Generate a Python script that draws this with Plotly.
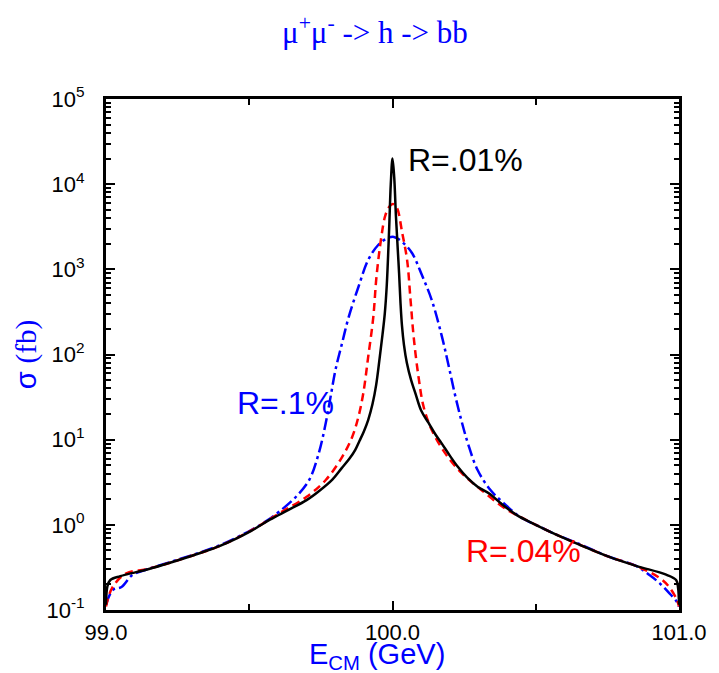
import plotly.graph_objects as go

# ---- data ----
e_black = [99.000, 99.005, 99.015, 99.050, 99.137, 99.200, 99.308, 99.400, 99.507, 99.572,
           99.637, 99.700, 99.744, 99.790, 99.822, 99.850, 99.870, 99.885, 99.900, 99.915,
           99.930, 99.943, 99.955, 99.965, 99.973, 99.980, 99.988, 99.994, 100.000, 100.006,
           100.012, 100.018, 100.023, 100.028, 100.033, 100.040, 100.050, 100.065, 100.080, 100.100,
           100.126, 100.150, 100.171, 100.200, 100.228, 100.260, 100.297, 100.340, 100.377, 100.434,
           100.500, 100.560, 100.650, 100.757, 100.850, 100.955, 100.990, 100.997, 101.000]
s_black = [0.115, 0.19, 0.225, 0.25, 0.295, 0.34, 0.443, 0.57, 0.85, 1.15,
           1.5, 1.95, 2.5, 3.4, 4.6, 6.0, 7.6, 9.7, 12.5, 17,
           26, 44, 90, 170, 300, 650, 2800, 10000, 20000, 12000,
           4200, 1800, 900, 400, 220, 130, 80, 50, 35, 22,
           15.7, 11.5, 9.1, 6.5, 4.8, 3.6, 2.8, 2.3, 1.8, 1.3,
           1.0, 0.80, 0.59, 0.42, 0.33, 0.26, 0.225, 0.18, 0.115]

e_red = [99.000, 99.023, 99.071, 99.137, 99.200, 99.308, 99.400, 99.507, 99.607, 99.699,
         99.767, 99.824, 99.859, 99.881, 99.898, 99.915, 99.933, 99.944, 99.961, 99.975,
         99.990, 100.001, 100.015, 100.034, 100.051, 100.063, 100.074, 100.091, 100.109, 100.137,
         100.183, 100.240, 100.308, 100.388, 100.434, 100.500, 100.560, 100.650, 100.757, 100.850,
         100.932, 100.966, 100.993, 101.000]
s_red = [0.11, 0.186, 0.27, 0.30, 0.34, 0.443, 0.57, 0.86, 1.38, 2.12,
         3.36, 6.25, 10.7, 18.5, 35, 93, 275, 812, 2395, 4300,
         5500, 5850, 5300, 2670, 1285, 436, 160, 54, 24, 13,
         7.0, 4.1, 2.6, 1.6, 1.3, 1.0, 0.80, 0.59, 0.42, 0.33,
         0.238, 0.186, 0.131, 0.11]

e_blue = [99.000, 99.024, 99.054, 99.092, 99.137, 99.200, 99.308, 99.400, 99.507, 99.562,
          99.607, 99.664, 99.710, 99.744, 99.767, 99.784, 99.801, 99.824, 99.847, 99.881,
          99.915, 99.950, 99.980, 100.005, 100.034, 100.068, 100.103, 100.137, 100.171, 100.194,
          100.217, 100.240, 100.263, 100.297, 100.342, 100.388, 100.445, 100.500, 100.560, 100.650,
          100.757, 100.850, 100.897, 100.932, 100.966, 100.993, 101.000]
s_blue = [0.115, 0.172, 0.186, 0.258, 0.295, 0.345, 0.45, 0.58, 0.87, 1.12,
          1.45, 2.15, 3.4, 7.2, 15.7, 32, 66, 136, 275, 620,
          1285, 1930, 2300, 2400, 2094, 1555, 850, 436, 170, 79,
          35, 17, 9.1, 4.4, 2.56, 1.8, 1.24, 1.0, 0.80, 0.60,
          0.42, 0.33, 0.257, 0.207, 0.158, 0.124, 0.11]

x_tickvals = [99.0, 100.0, 101.0]
x_ticktext = ["99.0", "100.0", "101.0"]
x_minor = [99.5, 100.5]
y_exps = [-1, 0, 1, 2, 3, 4, 5]

fig = go.Figure()
fig.add_trace(go.Scatter(x=e_blue, y=s_blue, mode="lines", line_shape="spline",
                         line=dict(color="#0000ff", width=2.5, dash="12px,4px,3px,4px")))
fig.add_trace(go.Scatter(x=e_red, y=s_red, mode="lines", line_shape="spline",
                         line=dict(color="#ff0000", width=2.5, dash="8px,5px")))
fig.add_trace(go.Scatter(x=e_black, y=s_black, mode="lines", line_shape="spline",
                         line=dict(color="black", width=2.5)))

minor_y = [k * 10.0 ** n for n in range(-1, 5) for k in range(2, 10)]

fig.update_layout(
    width=719, height=673, autosize=False,
    margin=dict(l=106, r=29, t=99, b=63),
    paper_bgcolor="white", plot_bgcolor="white",
    showlegend=False,
    font=dict(family="Liberation Sans, Arial", color="black"),
)
fig.update_xaxes(
    range=[99.0, 101.0], showgrid=False, zeroline=False,
    showline=True, linecolor="black", linewidth=3, mirror="allticks",
    ticks="inside", ticklen=9, tickwidth=2, tickcolor="black",
    tickmode="array", tickvals=x_tickvals, ticktext=x_ticktext,
    tickfont=dict(size=22, family="Liberation Sans, Arial", color="black"),
    ticklabelstandoff=1,
    minor=dict(tickmode="array", tickvals=x_minor, ticks="inside", ticklen=6,
               tickwidth=2, tickcolor="black", showgrid=False),
)
fig.update_yaxes(
    type="log", range=[-1, 5], showgrid=False, zeroline=False,
    showline=True, linecolor="black", linewidth=3, mirror="allticks",
    ticks="inside", ticklen=9, tickwidth=2, tickcolor="black",
    tickmode="array", tickvals=[10.0 ** p for p in y_exps],
    ticktext=["10<sup>%d</sup>" % p for p in y_exps],
    tickfont=dict(size=22, family="Liberation Sans, Arial", color="black"),
    ticklabelstandoff=14,
    minor=dict(tickmode="array", tickvals=minor_y, ticks="inside", ticklen=5,
               tickwidth=1.5, tickcolor="black", showgrid=False),
)

ann = [
    dict(text="μ<sup>+</sup>μ<sup>-</sup> -> h -> bb", x=0.47, y=1.135,
         font=dict(family="Liberation Serif, Times New Roman", size=31, color="#0000ff")),
    dict(text="E<sub>CM</sub> (GeV)", x=0.473, y=-0.09,
         font=dict(family="Liberation Sans, Arial", size=29, color="#0000ff")),
    dict(text="σ <span style='font-family:Liberation Serif'>(fb)</span>", x=-0.139, y=0.499,
         textangle=-90,
         font=dict(family="Liberation Sans, Arial", size=29, color="#0000ff")),
    dict(text="R=.01%", x=0.628, y=0.881,
         font=dict(family="Liberation Sans, Arial", size=32, color="black")),
    dict(text="R=.1%", x=0.313, y=0.405,
         font=dict(family="Liberation Sans, Arial", size=32, color="#0000ff")),
    dict(text="R=.04%", x=0.728, y=0.115,
         font=dict(family="Liberation Sans, Arial", size=32, color="#ff0000")),
]
for a in ann:
    a.update(xref="paper", yref="paper", xanchor="center", yanchor="middle",
             showarrow=False)
    fig.add_annotation(**a)

fig.write_html("out.html")
